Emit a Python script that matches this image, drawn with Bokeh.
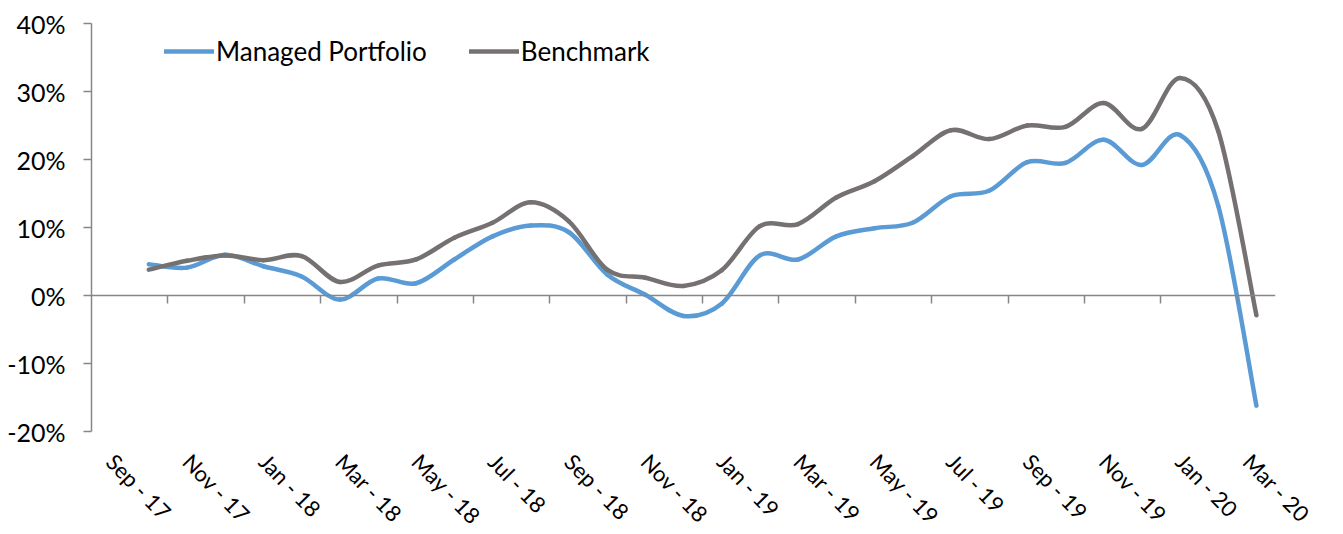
from bokeh.plotting import figure
from bokeh.models import (Range1d, LinearAxis, FixedTicker, NumeralTickFormatter,
                          CustomJSTickFormatter, Legend, LegendItem, ColumnDataSource)
from bokeh.embed import file_html
from bokeh.resources import INLINE

# ---- data ----
months = ["Sep - 17", "Oct - 17", "Nov - 17", "Dec - 17", "Jan - 18", "Feb - 18",
          "Mar - 18", "Apr - 18", "May - 18", "Jun - 18", "Jul - 18", "Aug - 18",
          "Sep - 18", "Oct - 18", "Nov - 18", "Dec - 18", "Jan - 19", "Feb - 19",
          "Mar - 19", "Apr - 19", "May - 19", "Jun - 19", "Jul - 19", "Aug - 19",
          "Sep - 19", "Oct - 19", "Nov - 19", "Dec - 19", "Jan - 20", "Feb - 20",
          "Mar - 20"]
data_months = months[1:]  # Oct-17 .. Mar-20

managed_pct = [4.6, 4.1, 6.0, 4.3, 2.8, -0.6, 2.5, 1.8, 5.3, 8.7, 10.3, 9.3, 3.1, 0.1,
               -3.0, -1.2, 5.9, 5.3, 8.7, 9.9, 10.7, 14.6, 15.4, 19.6, 19.5, 22.9,
               19.2, 23.6, 13.2, -16.2]
benchmark_pct = [3.8, 5.1, 5.9, 5.2, 5.8, 2.0, 4.4, 5.3, 8.5, 10.7, 13.7, 10.9, 3.8, 2.6,
                 1.4, 3.7, 10.2, 10.5, 14.4, 16.8, 20.5, 24.3, 23.0, 25.0, 24.8, 28.3,
                 24.5, 32.0, 24.2, -2.9]

y_ticks = [-0.2, -0.1, 0.0, 0.1, 0.2, 0.3, 0.4]

FONT = "Lato"
FS = "25px"

def smooth_segments(xs, ys):
    """Cubic Bezier control points (Catmull-Rom style) through the data points."""
    n = len(xs)
    out = dict(x0=[], y0=[], x1=[], y1=[], cx0=[], cy0=[], cx1=[], cy1=[])
    for i in range(n - 1):
        im1 = max(i - 1, 0)
        ip2 = min(i + 2, n - 1)
        out["x0"].append(xs[i]); out["y0"].append(ys[i])
        out["x1"].append(xs[i + 1]); out["y1"].append(ys[i + 1])
        out["cx0"].append(xs[i] + (xs[i + 1] - xs[im1]) / 6.0)
        out["cy0"].append(ys[i] + (ys[i + 1] - ys[im1]) / 6.0)
        out["cx1"].append(xs[i + 1] - (xs[ip2] - xs[i]) / 6.0)
        out["cy1"].append(ys[i + 1] - (ys[ip2] - ys[i]) / 6.0)
    return out

xs = [months.index(m) for m in data_months]

p = figure(frame_width=1184, frame_height=408,
           x_range=Range1d(-0.5, len(months) - 0.5), y_range=Range1d(-0.2, 0.4),
           output_backend="svg", toolbar_location=None,
           min_border_left=91, min_border_top=23, min_border_right=40,
           min_border_bottom=10)
p.outline_line_color = None
p.grid.visible = False
p.background_fill_color = "white"

# ---- lines ----
src_b = ColumnDataSource(smooth_segments(xs, [v / 100 for v in benchmark_pct]))
src_m = ColumnDataSource(smooth_segments(xs, [v / 100 for v in managed_pct]))
r_m = p.bezier(x0="x0", y0="y0", x1="x1", y1="y1", cx0="cx0", cy0="cy0",
               cx1="cx1", cy1="cy1", source=src_m, line_color="#5B9BD5",
               line_width=4.5, line_cap="round")
r_b = p.bezier(x0="x0", y0="y0", x1="x1", y1="y1", cx0="cx0", cy0="cy0",
               cx1="cx1", cy1="cy1", source=src_b, line_color="#767171",
               line_width=4.5, line_cap="round")

# ---- y axis ----
ya = p.yaxis[0]
ya.ticker = FixedTicker(ticks=y_ticks)
ya.formatter = NumeralTickFormatter(format="0%")
ya.axis_line_color = "#868686"
ya.axis_line_width = 1.5
ya.major_tick_line_color = "#868686"
ya.major_tick_line_width = 1.5
ya.major_tick_out = 8
ya.major_tick_in = 0
ya.minor_tick_line_color = None
ya.major_label_standoff = 18
ya.major_label_text_font = FONT
ya.major_label_text_font_size = FS
ya.major_label_text_color = "#000000"

# ---- x labels axis (bottom) ----
xa = p.xaxis[0]
xa.ticker = FixedTicker(ticks=list(range(0, len(months), 2)))
xa.major_label_overrides = {i: months[i] for i in range(0, len(months), 2)}
xa.axis_line_color = None
xa.major_tick_line_color = None
xa.minor_tick_line_color = None
xa.major_tick_out = 0
xa.major_tick_in = 0
xa.major_label_standoff = 26
xa.major_label_orientation = -0.80
xa.major_label_text_font = FONT
xa.major_label_text_font_size = "22px"
xa.major_label_text_color = "#000000"

# ---- zero-line axis with tick marks between categories ----
za = LinearAxis(fixed_location=0,
                ticker=FixedTicker(ticks=[i + 0.5 for i in range(1, len(months) - 1, 2)]),
                formatter=CustomJSTickFormatter(code="return ''"))
za.axis_line_color = "#868686"
za.axis_line_width = 1.5
za.major_tick_line_color = "#868686"
za.major_tick_line_width = 1.5
za.major_tick_out = 8
za.major_tick_in = 0
za.minor_tick_line_color = None
p.add_layout(za, "below")

# ---- legend ----
legend = Legend(items=[LegendItem(label="Managed Portfolio", renderers=[r_m]),
                       LegendItem(label="Benchmark", renderers=[r_b])],
                orientation="horizontal", location=(73, 364),
                glyph_width=50, glyph_height=24, label_height=24,
                label_standoff=2, spacing=42, padding=0, margin=0,
                border_line_color=None, background_fill_alpha=0,
                label_text_font=FONT, label_text_font_size="26px",
                label_text_color="#000000")
p.add_layout(legend)

open("out.html", "w").write(file_html(p, INLINE))
